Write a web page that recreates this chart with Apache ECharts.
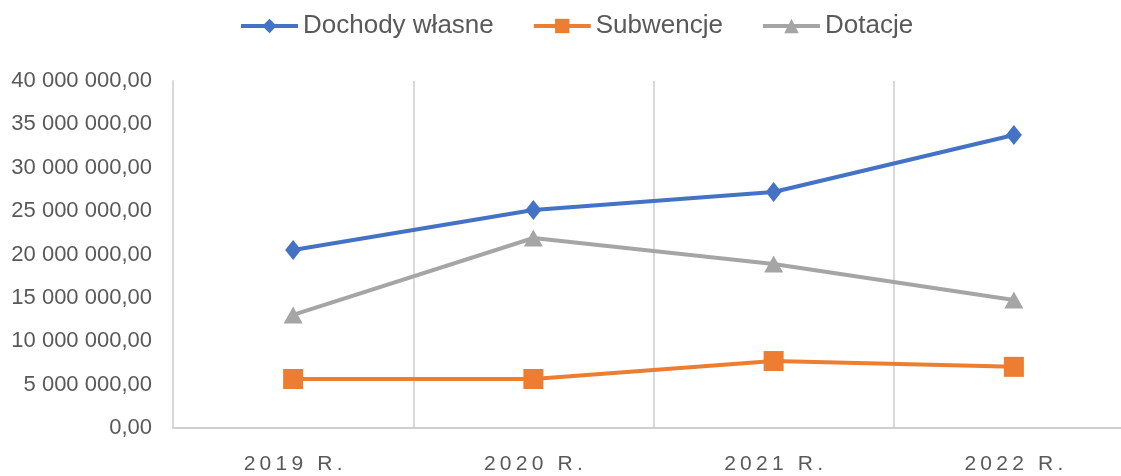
<!DOCTYPE html>
<html>
<head>
<meta charset="utf-8">
<script src="https://cdn.jsdelivr.net/npm/echarts@6/dist/echarts.min.js"></script>
<style>
  html, body { margin: 0; padding: 0; background: #fff; }
  #main { width: 1121px; height: 476px; }
</style>
</head>
<body>
<div id="main"></div>
<script>
// dane
var lata = ['2019 R.', '2020 R.', '2021 R.', '2022 R.'];
var dochodyWlasne = [20520000, 25130000, 27200000, 33780000];
var subwencje = [5650000, 5650000, 7720000, 7050000];
var dotacje = [13030000, 21900000, 18900000, 14760000];

function formatPL(v) {
    var s = v.toFixed(2).split('.');
    return s[0].replace(/\B(?=(\d{3})+(?!\d))/g, ' ') + ',' + s[1];
}

var myChart = echarts.init(document.getElementById('main'));
var font = '"Liberation Sans", Arial, sans-serif';

function seria(name, data, color, symbol, size) {
    return {
        name: name,
        type: 'line',
        data: data,
        symbol: symbol,
        symbolSize: size,
        lineStyle: { color: color, width: 4 },
        itemStyle: { color: color },
        emphasis: { disabled: true }
    };
}

myChart.setOption({
    animation: false,
    legend: {
        left: 234,
        top: 7,
        itemWidth: 57,
        itemHeight: 18,
        itemGap: 38,
        lineStyle: { width: 4 },
        textStyle: { fontFamily: font, fontSize: 26, color: '#595959', lineHeight: 28 }
    },
    grid: { left: 173, right: -13, top: 81, bottom: 48, outerBoundsMode: 'none' },
    xAxis: {
        type: 'category',
        data: lata,
        boundaryGap: true,
        axisLine: { lineStyle: { color: '#d0d0d0', width: 2 } },
        axisTick: { show: false },
        splitLine: { show: true, interval: 0, lineStyle: { color: '#d9d9d9', width: 2 } },
        axisLabel: {
            interval: 0,
            margin: 26,
            fontFamily: font,
            fontSize: 21,
            color: '#595959',
            formatter: function (v) { return v.split('').join('\u2009'); }
        }
    },
    yAxis: {
        type: 'value',
        min: 0,
        max: 40000000,
        interval: 5000000,
        axisLine: { show: true, lineStyle: { color: '#d9d9d9', width: 2 } },
        axisTick: { show: false },
        splitLine: { show: false },
        axisLabel: {
            margin: 21,
            fontFamily: font,
            fontSize: 22,
            color: '#595959',
            formatter: formatPL
        }
    },
    series: [
        seria('Dochody własne', dochodyWlasne, '#4472C4', 'diamond', [16, 20]),
        seria('Subwencje', subwencje, '#ED7D31', 'rect', 20),
        seria('Dotacje', dotacje, '#A5A5A5', 'triangle', [19, 17])
    ]
});
</script>
</body>
</html>
